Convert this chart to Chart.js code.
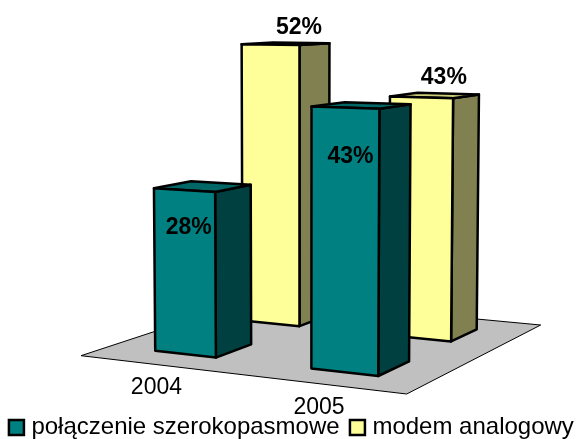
<!DOCTYPE html>
<html lang="pl">
<head>
<meta charset="utf-8">
<title>Dostęp do internetu</title>
<script src="https://cdn.jsdelivr.net/npm/chart.js@4"></script>
<style>
  html, body { margin: 0; padding: 0; background: #fff; }
  canvas { display: block; }
</style>
</head>
<body>
<canvas id="chart" width="578" height="439"></canvas>
<script>
"use strict";

// ---------- Data ----------

const categories = ["2004", "2005"];
const seriesNames = ["połączenie szerokopasmowe", "modem analogowy"];
const broadband = [28, 43];
const modem = [52, 43];

// ---------- Look ----------

const FONT_FAMILY = '"Liberation Sans", Arial, sans-serif';
const FONT_SIZE = 23;
const LEGEND_FONT_SIZE = 24;

// front / side / top face colours, per series
const FACES = [
    { front: "#008080", side: "#004040", top: "#006666" },
    { front: "#FFFF99", side: "#808050", top: "#CCCC7A" },
];

// floor corners on screen: left, front, right, back
const FLOOR = [[81, 355.7], [406.7, 394], [540.7, 325], [255.5, 298.3]];
const TILT = 0.000054;          // bars lean away from x=300 slightly
const BAR_DEPTH = 0.2;          // share of the floor depth
const TICK_GAP = 23.5;
// where each value label sits relative to the middle of its bar top
const LABEL_SHIFT = [
    [[-14, 41], [-11, 51]],
    [[13, -16], [9, -18]],
];
const LEGEND_SHIFT = { right: 9.3, y: 10.5 };

// ---------- Projection ----------

// unit square -> floor quad
function makeFloorMap(q) {
    const [p0, p1, p2, p3] = q;
    const dx1 = p1[0] - p2[0], dy1 = p1[1] - p2[1];
    const dx2 = p3[0] - p2[0], dy2 = p3[1] - p2[1];
    const sx = p0[0] - p1[0] + p2[0] - p3[0];
    const sy = p0[1] - p1[1] + p2[1] - p3[1];
    const det = dx1 * dy2 - dy1 * dx2;
    const g = (sx * dy2 - sy * dx2) / det;
    const h = (dx1 * sy - dy1 * sx) / det;
    const a = p1[0] - p0[0] + g * p1[0], b = p3[0] - p0[0] + h * p3[0];
    const d = p1[1] - p0[1] + g * p1[1], e = p3[1] - p0[1] + h * p3[1];
    return (u, v) => {
        const w = g * u + h * v + 1;
        return { x: (a * u + b * v + p0[0]) / w, y: (d * u + e * v + p0[1]) / w, w };
    };
}

const floorMap = makeFloorMap(FLOOR);

// heightPx comes straight from the y scale, it shrinks with distance
function project(u, v, heightPx) {
    const p = floorMap(u, v);
    const lift = heightPx / p.w;
    return [p.x + (p.x - 300) * TILT * lift, p.y - lift];
}

function face(ctx, points, fill) {
    ctx.beginPath();
    points.forEach((pt, i) => (i ? ctx.lineTo(pt[0], pt[1]) : ctx.moveTo(pt[0], pt[1])));
    ctx.closePath();
    ctx.fillStyle = fill;
    ctx.fill();
    ctx.stroke();
}

// ---------- Plugin ----------

const boxes3d = {
    id: "boxes3d",

    // legend sits lower and further right than Chart.js would put it.
    // left stays put because the legend clips to its own box
    afterLayout(chart) {
        chart.legend.right += LEGEND_SHIFT.right;
        chart.legend.top += LEGEND_SHIFT.y;
        chart.legend.bottom += LEGEND_SHIFT.y;
    },

    beforeDatasetsDraw(chart) {
        const { ctx } = chart;
        ctx.save();
        ctx.lineWidth = 1;
        ctx.strokeStyle = "#000";
        face(ctx, FLOOR, "#C0C0C0");
        ctx.restore();
    },

    // each dataset is drawn here as boxes, from the geometry of its bar elements
    beforeDatasetDraw(chart, args) {
        const { ctx, chartArea } = chart;
        const s = args.index;
        const colors = FACES[s];
        const span = chartArea.right - chartArea.left;
        const depthMid = (s + 0.5) / chart.data.datasets.length;

        ctx.save();
        ctx.lineWidth = 2.5;
        ctx.lineJoin = "round";
        ctx.strokeStyle = "#000";
        for (const bar of args.meta.data) {
            const u0 = (bar.x - bar.width / 2 - chartArea.left) / span;
            const u1 = (bar.x + bar.width / 2 - chartArea.left) / span;
            const v0 = depthMid - BAR_DEPTH / 2;
            const v1 = depthMid + BAR_DEPTH / 2;
            const h = bar.base - bar.y;
            face(ctx, [project(u1, v0, 0), project(u1, v1, 0), project(u1, v1, h), project(u1, v0, h)], colors.side);
            face(ctx, [project(u0, v0, h), project(u1, v0, h), project(u1, v1, h), project(u0, v1, h)], colors.top);
            face(ctx, [project(u0, v0, 0), project(u1, v0, 0), project(u1, v0, h), project(u0, v0, h)], colors.front);
        }
        ctx.restore();
        return false;
    },

    afterDatasetsDraw(chart) {
        const { ctx, chartArea } = chart;
        const span = chartArea.right - chartArea.left;
        ctx.save();
        ctx.fillStyle = "#000";
        ctx.textAlign = "center";
        ctx.textBaseline = "middle";

        // category labels follow the front edge of the floor
        ctx.font = `${FONT_SIZE}px ${FONT_FAMILY}`;
        const xScale = chart.scales.x;
        chart.data.labels.forEach((label, i) => {
            const p = floorMap((xScale.getPixelForValue(i) - chartArea.left) / span, 0);
            ctx.fillText(label, p.x, p.y + TICK_GAP);
        });

        // value labels
        ctx.font = `bold ${FONT_SIZE}px ${FONT_FAMILY}`;
        chart.data.datasets.forEach((ds, s) => {
            const depthMid = (s + 0.5) / chart.data.datasets.length;
            chart.getDatasetMeta(s).data.forEach((bar, i) => {
                const u = (bar.x - chartArea.left) / span;
                const pt = project(u, depthMid, bar.base - bar.y);
                const shift = LABEL_SHIFT[s][i];
                ctx.fillText(ds.data[i] + "%", pt[0] + shift[0], pt[1] + shift[1]);
            });
        });
        ctx.restore();
    },
};

// ---------- Chart ----------

new Chart(document.getElementById("chart"), {
    type: "bar",
    plugins: [boxes3d],
    data: {
        labels: categories,
        datasets: [
            { label: seriesNames[0], data: broadband, backgroundColor: FACES[0].front, order: 1 },
            { label: seriesNames[1], data: modem, backgroundColor: FACES[1].front, order: 2 },
        ],
    },
    options: {
        responsive: false,
        animation: false,
        datasets: {
            bar: {
                grouped: false,
                barPercentage: 0.4,
                categoryPercentage: 1,
                borderColor: "#000",
                borderWidth: 2.5,
            },
        },
        scales: {
            x: { display: false },
            y: { display: false, min: 0, max: 68.6 },
        },
        plugins: {
            tooltip: { enabled: false },
            legend: {
                position: "bottom",
                align: "center",
                onClick: null,
                labels: {
                    color: "#000",
                    font: { family: FONT_FAMILY, size: LEGEND_FONT_SIZE },
                    usePointStyle: true,
                    pointStyle: "rect",
                    boxWidth: 6,
                    boxHeight: 15,
                    padding: 1.5,
                    // two spaces keep the items apart without making the row wrap
                    generateLabels(chart) {
                        return Chart.defaults.plugins.legend.labels.generateLabels(chart)
                            .map((item, i) => ({ ...item, text: i === 0 ? item.text + "  " : item.text }));
                    },
                },
            },
        },
    },
});
</script>
</body>
</html>
